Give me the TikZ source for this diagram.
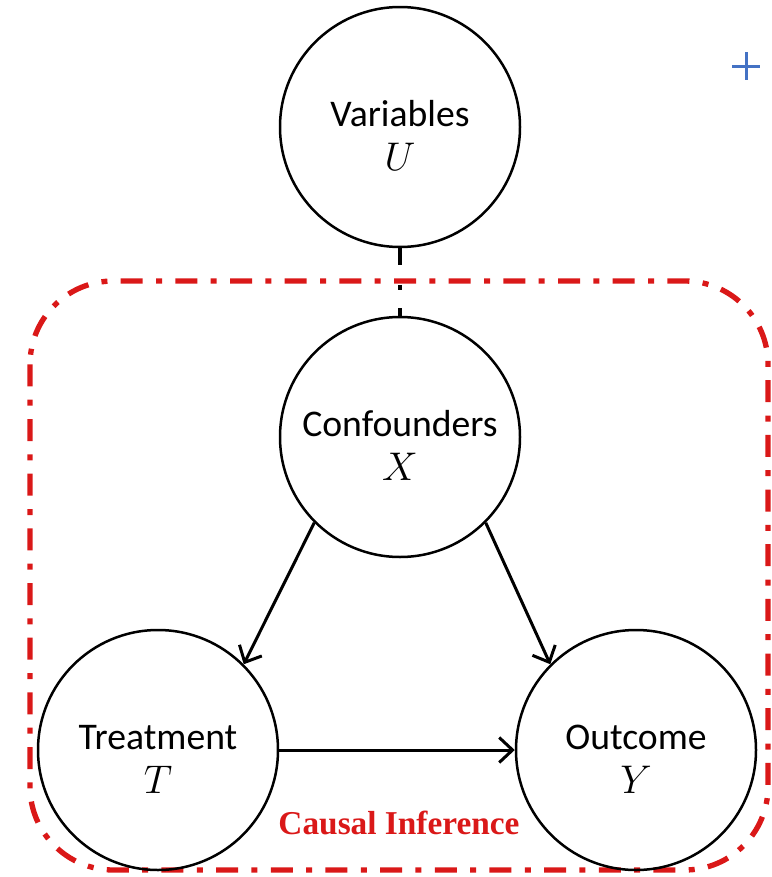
\documentclass[tikz,border=0pt]{standalone}
\usepackage{fontspec}
\setmainfont{Carlito}
\newfontfamily\serifbold{Liberation Serif}
\usetikzlibrary{arrows.meta}
\definecolor{cired}{RGB}{218,24,24}
\definecolor{plusblue}{RGB}{68,114,196}
\newcommand{\sym}[1]{{\fontsize{13}{13}\selectfont$#1$}}
\tikzset{
  var/.style={draw, circle, line width=0.75pt, minimum size=72pt, inner sep=0pt,
    align=center, text height=26pt, font=\fontsize{11.3}{13.2}\selectfont},
  causal/.style={-{Straight Barb[length=4pt,width=7.5pt]}, line width=0.9pt},
  link/.style={line width=1.1pt, dash pattern=on 5pt off 6pt on 1.5pt off 5.5pt},
  regionbox/.style={cired, line width=1.6pt, rounded corners=25pt,
    dash pattern=on 6.6pt off 4pt on 1.8pt off 4pt}}

\begin{document}
\begin{tikzpicture}[x=0.3pt,y=-0.3pt]
  \useasboundingbox (0,0) rectangle (771,877);
  \draw[regionbox] (30,281) rectangle (768,870);
  \node[var] (U) at (400,127) {Variables\\\sym{U}};
  \node[var] (X) at (400,437) {Confounders\\\sym{X}};
  \node[var] (T) at (158,750) {Treatment\\\sym{T}};
  \node[var] (Y) at (636,750) {Outcome\\\sym{Y}};
  \draw[link] (U) -- (X);
  \draw[causal] (X.south west) -- (T.north east);
  \draw[causal] (X.south east) -- (Y.north west);
  \draw[causal] (T) -- (Y);
  \node[text=cired, font=\serifbold\bfseries\fontsize{10}{12}\selectfont] (ci) at (399,823) {Causal Inference};
  % plus sign, top right
  \draw[plusblue, line width=0.9pt] (732,66) -- (760,66) (746,52) -- (746,80);
\end{tikzpicture}
\end{document}
